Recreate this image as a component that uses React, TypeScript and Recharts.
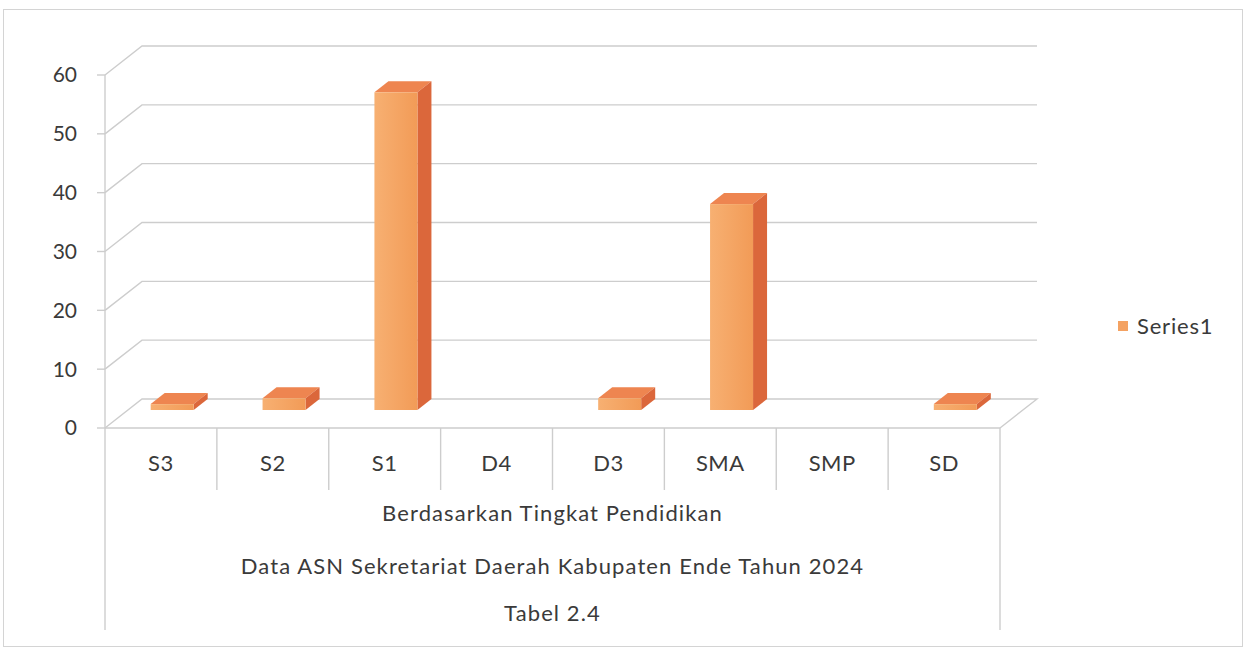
import { Bar, BarChart, Label, ReferenceLine, XAxis, YAxis } from "recharts"

const categories = ["S3", "S2", "S1", "D4", "D3", "SMA", "SMP", "SD"]
const series1 = [1, 2, 54, 0, 2, 35, 0, 1]
const yTicks = [0, 10, 20, 30, 40, 50, 60]
const groupLabels = [
  "Berdasarkan Tingkat Pendidikan",
  "Data ASN Sekretariat Daerah Kabupaten Ende Tahun 2024",
  "Tabel 2.4"
]

const data = categories.map((level, i) => ({ level, Series1: series1[i] }))

const FONT = "Lato, 'Open Sans', sans-serif"
const TEXT = "#3a3a3a"
const GRID = "#cdcdcd"
// back wall offset of the fake 3d box
const WALL_DX = 37
const WALL_DY = 29

// grid line drawn on the back wall, plus the floor outline for 0
const WallLine = (props: any) => {
  const { x1, y1, x2, value } = props
  const left = Math.min(x1, x2)
  const right = Math.max(x1, x2)
  let d = `M${left},${y1} L${left + WALL_DX},${y1 - WALL_DY} L${right + WALL_DX},${y1 - WALL_DY}`
  if (value === 0) d += ` L${right},${y1}`
  return <path d={d} stroke={GRID} strokeWidth={1.4} fill="none" />
}

const Box3D = (props: any) => {
  const { x, y, width, height, payload } = props
  if (!payload || !payload.Series1) return null
  const fx = x + 11
  const fy = y - 18
  const dx = 14
  const dy = 11
  return (
    <g>
      <polygon
        points={`${fx},${fy} ${fx + dx},${fy - dy} ${fx + width + dx},${fy - dy} ${fx + width},${fy}`}
        fill="#EE8550"
      />
      <polygon
        points={`${fx + width},${fy} ${fx + width + dx},${fy - dy} ${fx + width + dx},${fy + height - dy} ${fx + width},${fy + height}`}
        fill="#DB673B"
      />
      <rect x={fx} y={fy} width={width} height={height} fill="url(#frontFace)" />
    </g>
  )
}

const CategoryTick = (props: any) => {
  const { x, y, payload, index, visibleTicksCount } = props
  const half = payload && payload.offset ? payload.offset : 56
  const last = index === visibleTicksCount - 1
  return (
    <g>
      <line x1={x - half} y1={y} x2={x - half} y2={index === 0 ? y + 202 : y + 62} stroke={GRID} strokeWidth={1.4} />
      {last && <line x1={x + half} y1={y} x2={x + half} y2={y + 202} stroke={GRID} strokeWidth={1.4} />}
      <text x={x} y={y + 34} textAnchor="middle" dominantBaseline="central" fill={TEXT} fontSize={22} fontFamily={FONT} letterSpacing={0.5}>
        {payload.value}
      </text>
    </g>
  )
}

const GroupLabel = (props: any) => {
  const { viewBox } = props
  const cx = viewBox.x + viewBox.width / 2
  const rows = [84, 137, 184]
  return (
    <g>
      {groupLabels.map((t, i) => (
        <text key={t} x={cx} y={viewBox.y + rows[i]} textAnchor="middle" dominantBaseline="central" fill={TEXT} fontSize={22} fontFamily={FONT} letterSpacing={1.1}>
          {t}
        </text>
      ))}
    </g>
  )
}

export default function App() {
  return (
    <div style={{ position: "relative", width: 1247, height: 650, background: "#fff" }}>
      <style>{`body{margin:0}`}</style>
      <div style={{ position: "absolute", left: 3, top: 9, width: 1240, height: 638, border: "1px solid #d4d4d4", boxSizing: "border-box" }} />
      <BarChart
        width={1247}
        height={650}
        data={data}
        margin={{ top: 75, right: 247, left: 45, bottom: 22 }}
        barCategoryGap="31%"
        style={{ position: "absolute", left: 0, top: 0 }}
      >
        <defs>
          <linearGradient id="frontFace" x1="0" y1="0" x2="1" y2="0">
            <stop offset="0%" stopColor="#F7B072" />
            <stop offset="100%" stopColor="#F29B57" />
          </linearGradient>
        </defs>
        {yTicks.map((t) => (
          <ReferenceLine key={t} y={t} zIndex={0} shape={(p: any) => <WallLine {...p} value={t} />} />
        ))}
        <XAxis
          dataKey="level"
          height={200}
          tickSize={0}
          tickMargin={0}
          tickLine={false}
          axisLine={{ stroke: GRID, strokeWidth: 1.4 }}
          tick={<CategoryTick />}
          interval={0}
        >
          <Label content={<GroupLabel />} />
        </XAxis>
        <YAxis
          width={60}
          domain={[0, 60]}
          ticks={yTicks}
          tickSize={8}
          tickMargin={20}
          axisLine={{ stroke: GRID, strokeWidth: 1.4 }}
          tickLine={{ stroke: GRID, strokeWidth: 1.4 }}
          tick={{ fill: TEXT, fontSize: 21, fontFamily: FONT }}
        />
        <Bar dataKey="Series1" shape={<Box3D />} isAnimationActive={false} />
      </BarChart>
      <div style={{ position: "absolute", left: 1118, top: 312, display: "flex", alignItems: "center", fontFamily: FONT, fontSize: 22, color: TEXT, letterSpacing: 0.8 }}>
        <span style={{ display: "inline-block", width: 10, height: 10, background: "#F4A262", marginRight: 9 }} />
        Series1
      </div>
    </div>
  )
}
